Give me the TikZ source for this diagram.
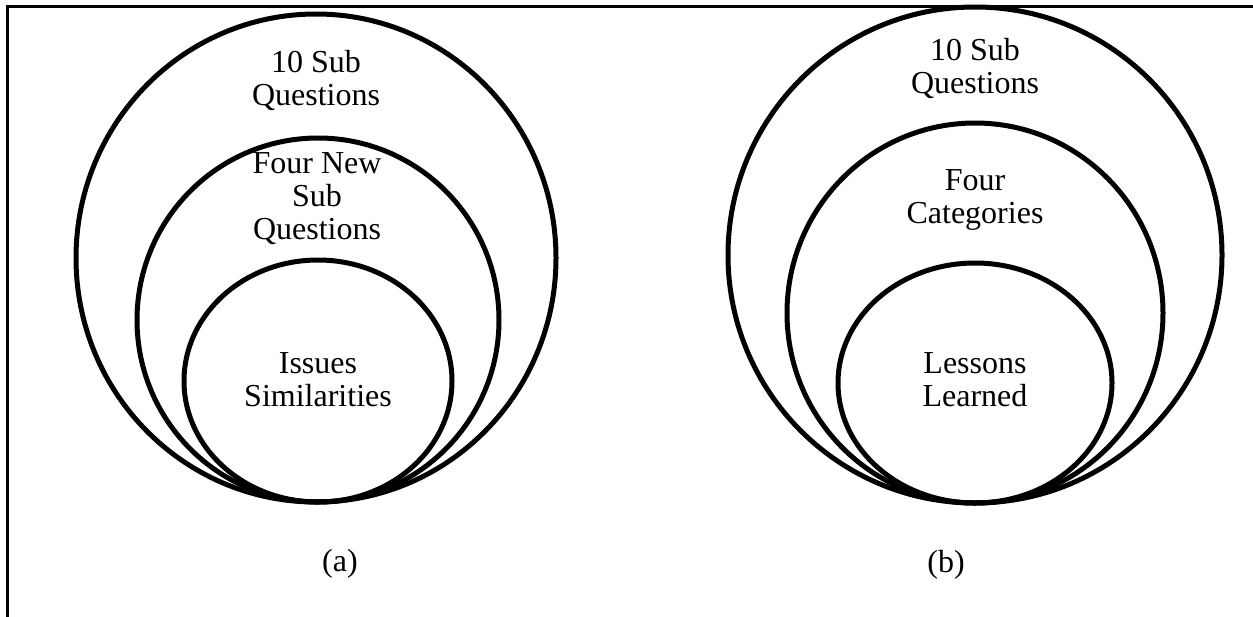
\documentclass[tikz,border=0pt]{standalone}
\usepackage{fontspec}
\setmainfont{Liberation Serif}
\begin{document}
\begin{tikzpicture}[x=1pt,y=-1pt,
  ring/.style={line width=5pt},
  frame/.style={line width=3pt},
  lbl/.style={align=center, inner sep=0pt, font=\fontsize{32}{33}\selectfont}]
\useasboundingbox (0,0) rectangle (1253,616);
\begin{scope}
  \clip (0,0) rectangle (1253,616);
  \draw[frame] (7,6) rectangle (1280,650);
\end{scope}
% (a)
\draw[ring] (316,258) ellipse [x radius=240pt, y radius=244pt];
\draw[ring] (318,320) ellipse [x radius=181pt, y radius=182pt];
\draw[ring] (318,381) ellipse [x radius=134pt, y radius=121pt];
\node[lbl] (a1) at (316,80) {10 Sub\\Questions};
\node[lbl] (a2) at (317,199) {Four New\\Sub\\Questions};
\node[lbl] (a3) at (318,380) {Issues\\Similarities};
\node[lbl] (la) at (340,564) {(a)};
% (b)
\draw[ring] (975,255) ellipse [x radius=247pt, y radius=248pt];
\draw[ring] (975,313) ellipse [x radius=188pt, y radius=190pt];
\draw[ring] (975,383) ellipse [x radius=137pt, y radius=120pt];
\node[lbl] (b1) at (975,68) {10 Sub\\Questions};
\node[lbl] (b2) at (975,200) {Four\\Categories};
\node[lbl] (b3) at (975,380) {Lessons\\Learned};
\node[lbl] (lb) at (946,565) {(b)};
\end{tikzpicture}
\end{document}
